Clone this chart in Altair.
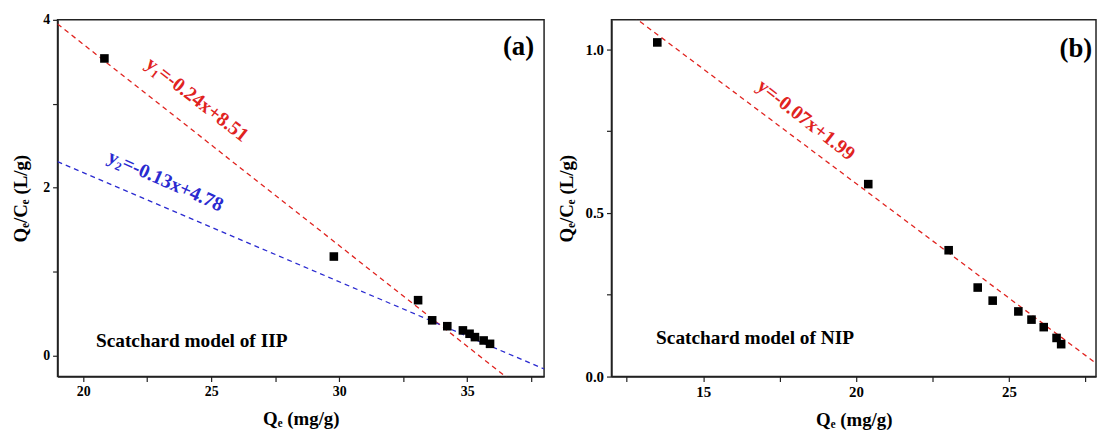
import altair as alt
import pandas as pd

FONT = "Liberation Serif"

# ---- data ----
iip_qe = [20.83, 29.79, 33.08, 33.63, 34.22, 34.83, 35.09, 35.30, 35.64, 35.89]
iip_ratio = [3.54, 1.18, 0.66, 0.42, 0.35, 0.30, 0.26, 0.22, 0.18, 0.14]

nip_qe = [13.50, 20.40, 23.03, 23.98, 24.47, 25.31, 25.74, 26.14, 26.56, 26.71]
nip_ratio = [1.021, 0.588, 0.386, 0.272, 0.232, 0.199, 0.174, 0.151, 0.118, 0.099]

iip_fit_names = ["y\u2081=-0.24x+8.51", "y\u2082=-0.13x+4.78"]
iip_slopes = [-0.24, -0.13]
iip_intercepts = [8.51, 4.78]
iip_colors = ["#e0231f", "#2a2ad0"]
iip_label_x = [24.45, 23.22]
iip_label_y = [3.05, 2.08]
iip_label_angle = [38, 24]

nip_fit_names = ["y=-0.07x+1.99"]
nip_slopes = [-0.07]
nip_intercepts = [1.99]
nip_colors = ["#e0231f"]
nip_label_x = [18.36]
nip_label_y = [0.784]
nip_label_angle = [38]

iip_xdom = [19, 38]
iip_ydom = [-0.25, 4]
nip_xdom = [12, 27.85]
nip_ydom = [0, 1.09]

iip_xticks = [20, 22.5, 25, 27.5, 30, 32.5, 35, 37.5]
iip_yticks = [0, 1, 2, 3, 4]
nip_xticks = [12.5, 15, 17.5, 20, 22.5, 25, 27.5]
nip_yticks = [0, 0.25, 0.5, 0.75, 1.0]

X_TITLE = "Q\u2091 (mg/g)"
Y_TITLE = "Q\u2091/C\u2091 (L/g)"


def panel(qe, ratio, names, slopes, intercepts, colors, lx, ly, angles,
          xdom, ydom, xticks, yticks, ylabel_expr, yfmt, model_text, model_xy,
          tag, tag_xy, width, height, label_size, ytitle_pad):
    pts = pd.DataFrame({"qe": qe, "ratio": ratio})
    rows = []
    for n, s, b in zip(names, slopes, intercepts):
        for xv in xdom:
            rows.append({"fit": n, "qe": xv, "ratio": s * xv + b})
    lines = pd.DataFrame(rows)
    labs = pd.DataFrame({"fit": names, "x": lx, "y": ly, "angle": angles, "color": colors})

    xs = alt.Scale(domain=xdom, nice=False, zero=False)
    ys = alt.Scale(domain=ydom, nice=False, zero=False)
    xax = alt.Axis(values=xticks, labelExpr="datum.value % 5 == 0 ? datum.label : ''",
                   title=X_TITLE, labelPadding=3, titlePadding=11, labelFontSize=label_size)
    yax = alt.Axis(values=yticks, labelExpr=ylabel_expr, format=yfmt,
                   title=Y_TITLE, labelPadding=3, titlePadding=ytitle_pad,
                   labelFontSize=label_size)

    line_layer = alt.Chart(lines).mark_line(strokeDash=[5, 4], strokeWidth=1.3, clip=True).encode(
        x=alt.X("qe:Q", scale=xs, axis=xax),
        y=alt.Y("ratio:Q", scale=ys, axis=yax),
        color=alt.Color("fit:N", scale=alt.Scale(domain=names, range=colors), legend=None),
        detail="fit:N",
    )
    pt_layer = alt.Chart(pts).mark_point(shape="square", filled=True, size=75, color="black",
                                         opacity=1).encode(
        x=alt.X("qe:Q", scale=xs), y=alt.Y("ratio:Q", scale=ys))
    layers = [line_layer, pt_layer]
    for i in range(len(names)):
        layers.append(alt.Chart(labs.iloc[[i]]).mark_text(
            font=FONT, fontSize=20, fontWeight="bold", angle=angles[i], color=colors[i],
            align="center", baseline="middle").encode(
            x=alt.X("x:Q", scale=xs), y=alt.Y("y:Q", scale=ys), text="fit:N"))
    mdf = pd.DataFrame({"x": [model_xy[0]], "y": [model_xy[1]], "t": [model_text]})
    layers.append(alt.Chart(mdf).mark_text(font=FONT, fontSize=19.5, fontWeight="bold",
                                           color="black", align="left", baseline="middle").encode(
        x=alt.X("x:Q", scale=xs), y=alt.Y("y:Q", scale=ys), text="t:N"))
    tdf = pd.DataFrame({"x": [tag_xy[0]], "y": [tag_xy[1]], "t": [tag]})
    layers.append(alt.Chart(tdf).mark_text(font=FONT, fontSize=27, fontWeight="bold",
                                           color="black", align="center", baseline="middle").encode(
        x=alt.X("x:Q", scale=xs), y=alt.Y("y:Q", scale=ys), text="t:N"))
    return alt.layer(*layers).properties(width=width, height=height)


left = panel(iip_qe, iip_ratio, iip_fit_names, iip_slopes, iip_intercepts, iip_colors,
             iip_label_x, iip_label_y, iip_label_angle, iip_xdom, iip_ydom,
             iip_xticks, iip_yticks, "datum.value % 2 == 0 ? datum.label : ''", "d",
             "Scatchard model of IIP", (20.5, 0.17), "(a)", (37.0, 3.68), 491, 360, 14, 12)

right = panel(nip_qe, nip_ratio, nip_fit_names, nip_slopes, nip_intercepts, nip_colors,
              nip_label_x, nip_label_y, nip_label_angle, nip_xdom, nip_ydom,
              nip_xticks, nip_yticks,
              "abs(datum.value * 2 - round(datum.value * 2)) < 0.001 ? datum.label : ''", ".1f",
              "Scatchard model of NIP", (13.46, 0.117), "(b)", (27.19, 1.0), 489, 360, 15, 9)

chart = alt.hconcat(left, right, spacing=11).properties(
    padding={"left": 3, "top": 2, "right": 0, "bottom": 0},
    background="white",
).configure_view(stroke="#222222", strokeWidth=1.5).configure_axis(
    grid=False, labelFont=FONT, labelFontWeight="bold", labelColor="black",
    titleFont=FONT, titleFontWeight="bold", titleFontSize=19, titleColor="black",
    domainColor="#222222", domainWidth=1.5, tickColor="#222222", tickSize=5, tickWidth=1.2,
)

chart.save("out.html", embed_options={"renderer": "svg", "actions": False})
